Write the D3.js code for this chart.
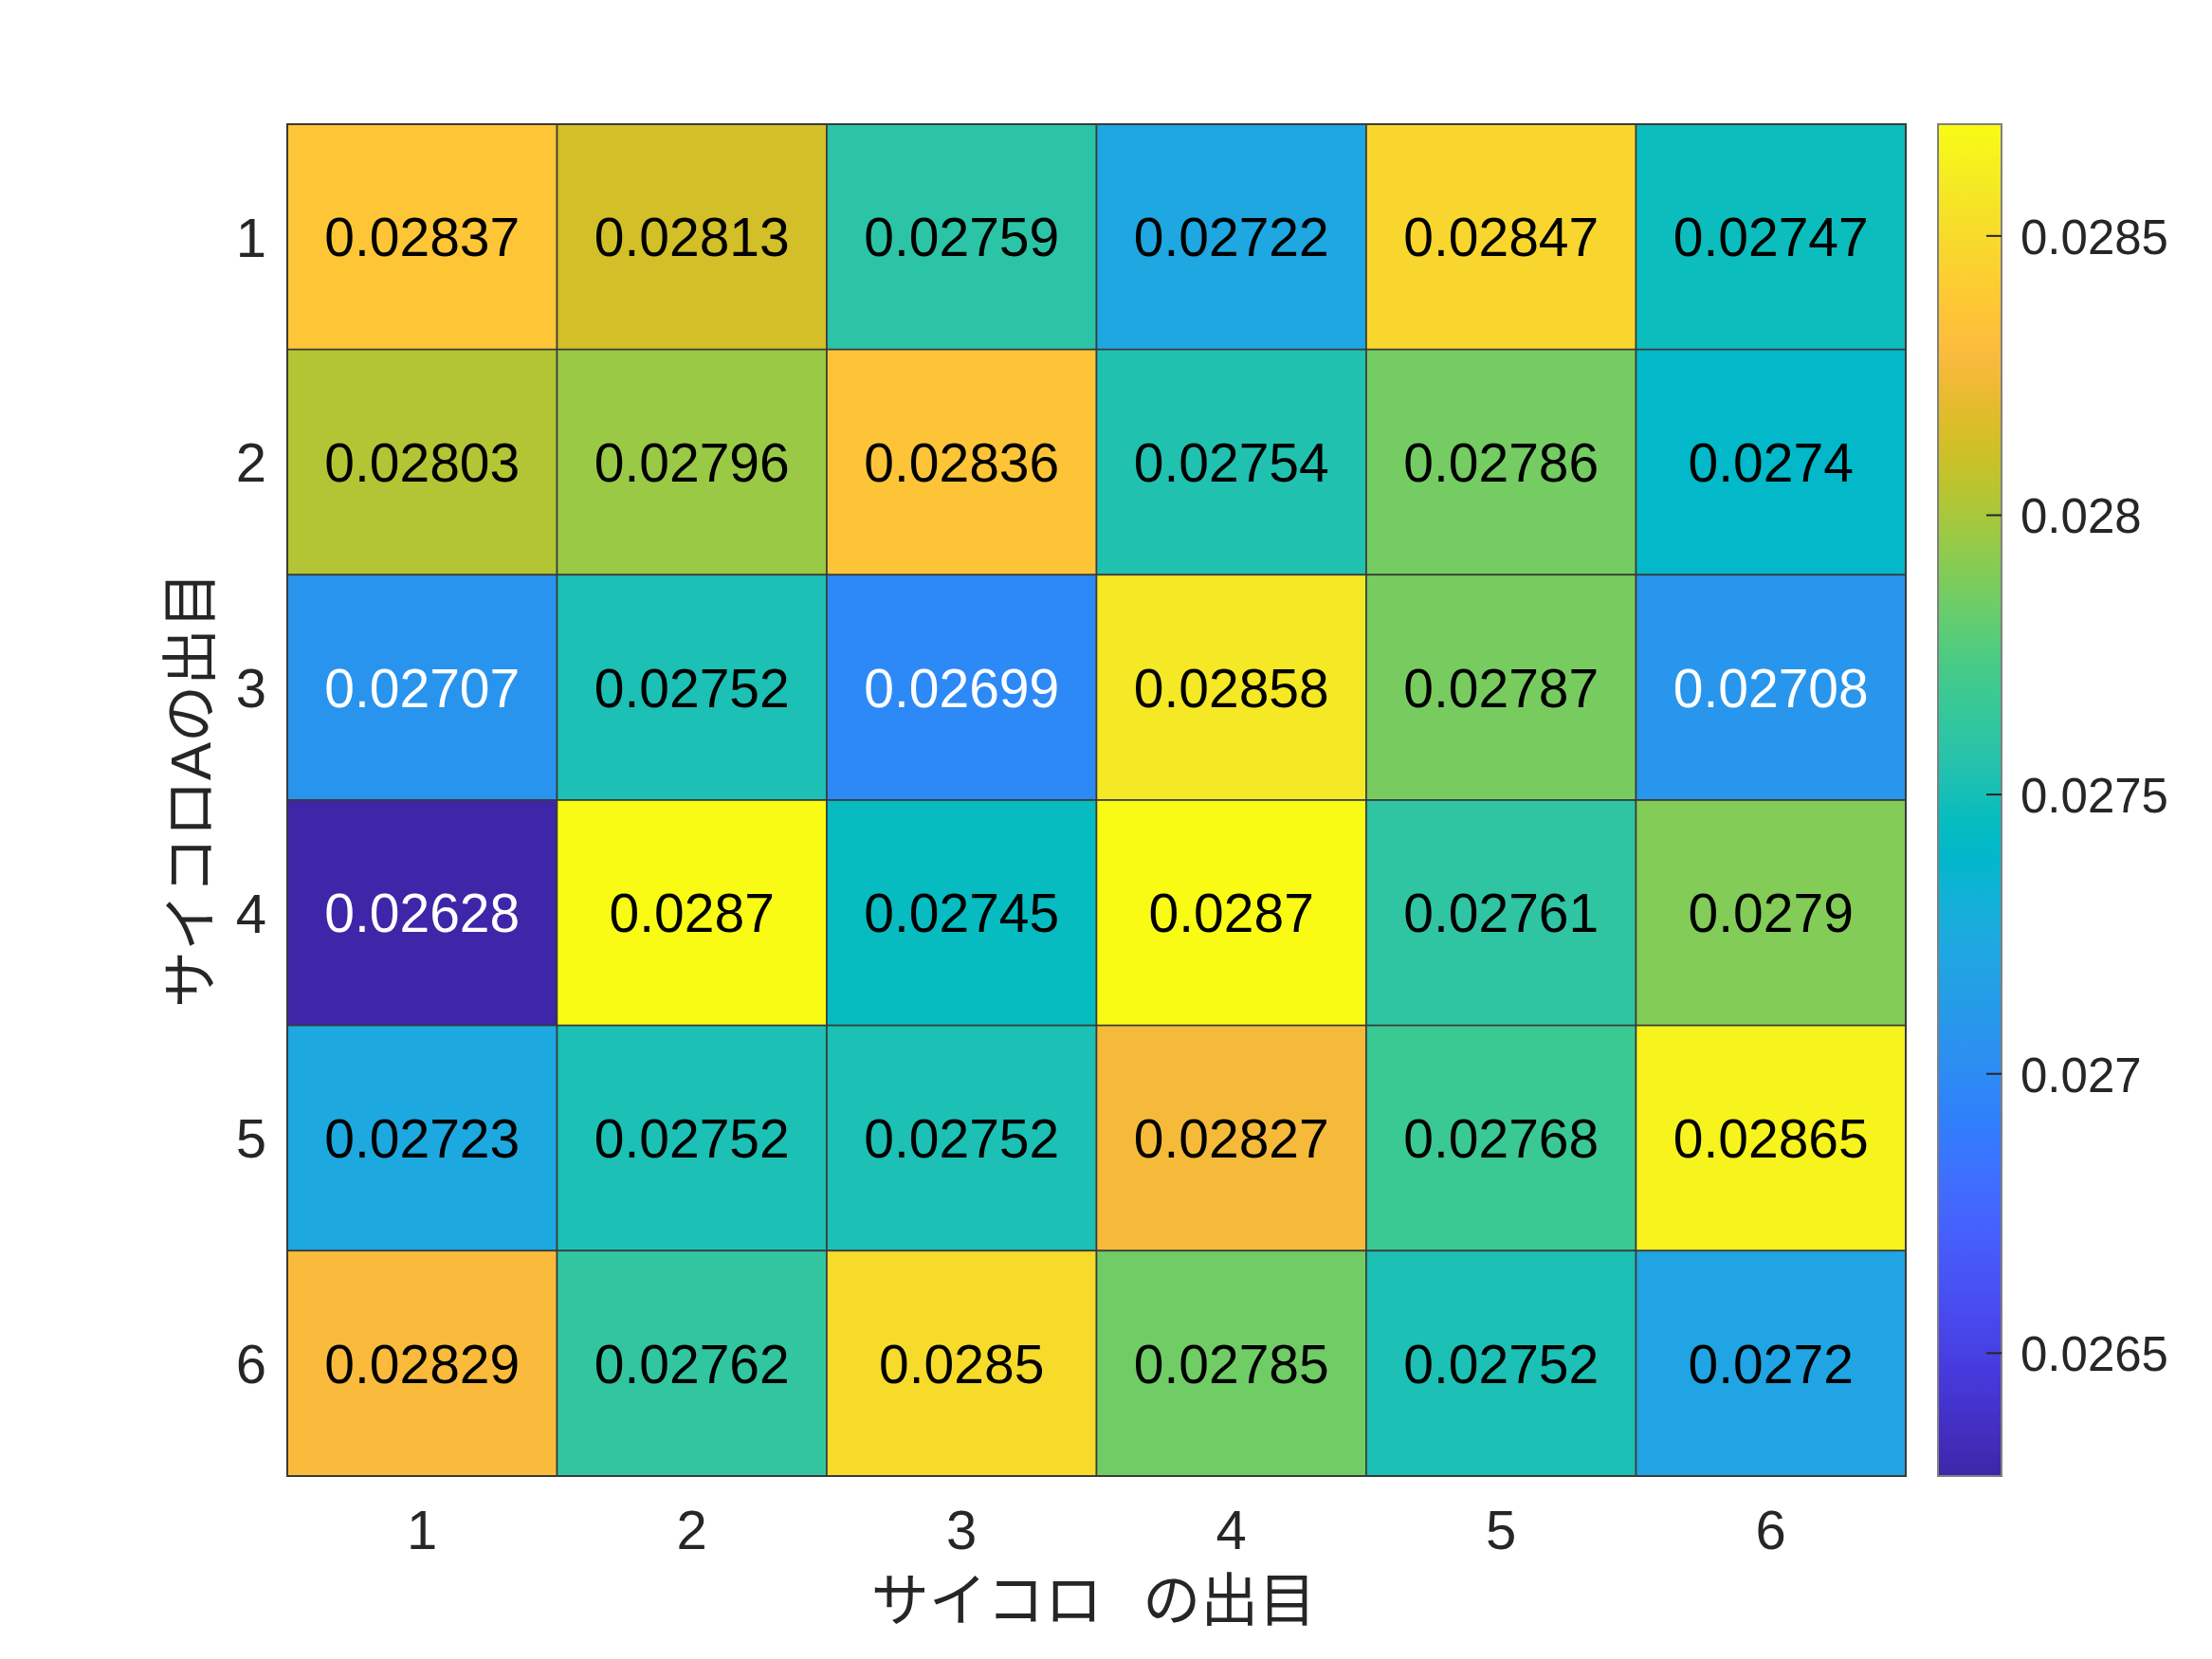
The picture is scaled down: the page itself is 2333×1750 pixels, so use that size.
<!DOCTYPE html>
<html>
<head>
<meta charset="utf-8">
<script src="https://cdn.jsdelivr.net/npm/d3@7"></script>
<style>
  html, body { margin: 0; padding: 0; background: #fff; }
  svg { display: block; }
</style>
</head>
<body>
<svg id="chart" width="2333" height="1750"></svg>
<script>
// ---- data ----
const rowLabels = ["1", "2", "3", "4", "5", "6"];   // サイコロA
const colLabels = ["1", "2", "3", "4", "5", "6"];   // サイコロ
const row1 = [0.02837, 0.02813, 0.02759, 0.02722, 0.02847, 0.02747];
const row2 = [0.02803, 0.02796, 0.02836, 0.02754, 0.02786, 0.0274];
const row3 = [0.02707, 0.02752, 0.02699, 0.02858, 0.02787, 0.02708];
const row4 = [0.02628, 0.0287, 0.02745, 0.0287, 0.02761, 0.0279];
const row5 = [0.02723, 0.02752, 0.02752, 0.02827, 0.02768, 0.02865];
const row6 = [0.02829, 0.02762, 0.0285, 0.02785, 0.02752, 0.0272];
const rows = [row1, row2, row3, row4, row5, row6];
const colorbarTicks = [0.0265, 0.027, 0.0275, 0.028, 0.0285];
const xLabel = "サイコロ\u2002\u2009の出目";
const yLabel = "サイコロAの出目";

// parula colormap (64 entries)
const parula = [
[0.2422,0.1504,0.6603],[0.2504,0.1650,0.7076],[0.2578,0.1818,0.7511],[0.2647,0.1978,0.7952],
[0.2706,0.2147,0.8364],[0.2751,0.2342,0.8710],[0.2783,0.2559,0.8991],[0.2803,0.2782,0.9221],
[0.2813,0.3006,0.9414],[0.2810,0.3228,0.9579],[0.2795,0.3447,0.9717],[0.2760,0.3667,0.9829],
[0.2699,0.3892,0.9906],[0.2602,0.4123,0.9952],[0.2440,0.4358,0.9988],[0.2206,0.4603,0.9973],
[0.1963,0.4847,0.9892],[0.1834,0.5074,0.9798],[0.1786,0.5289,0.9682],[0.1764,0.5499,0.9520],
[0.1687,0.5703,0.9359],[0.1540,0.5902,0.9218],[0.1460,0.6091,0.9079],[0.1380,0.6276,0.8973],
[0.1248,0.6459,0.8883],[0.1113,0.6635,0.8763],[0.0952,0.6798,0.8598],[0.0689,0.6948,0.8394],
[0.0297,0.7082,0.8163],[0.0036,0.7203,0.7917],[0.0067,0.7312,0.7660],[0.0433,0.7411,0.7394],
[0.0964,0.7500,0.7120],[0.1408,0.7584,0.6842],[0.1717,0.7670,0.6554],[0.1938,0.7758,0.6251],
[0.2161,0.7843,0.5923],[0.2470,0.7918,0.5567],[0.2906,0.7973,0.5188],[0.3406,0.8008,0.4789],
[0.3909,0.8029,0.4354],[0.4456,0.8024,0.3909],[0.5044,0.7993,0.3480],[0.5616,0.7942,0.3045],
[0.6174,0.7876,0.2612],[0.6720,0.7793,0.2227],[0.7242,0.7698,0.1910],[0.7738,0.7598,0.1646],
[0.8203,0.7498,0.1535],[0.8634,0.7406,0.1596],[0.9035,0.7330,0.1774],[0.9393,0.7288,0.2100],
[0.9728,0.7298,0.2394],[0.9956,0.7434,0.2371],[0.9970,0.7659,0.2199],[0.9952,0.7893,0.2028],
[0.9892,0.8136,0.1885],[0.9786,0.8386,0.1766],[0.9676,0.8639,0.1643],[0.9610,0.8890,0.1537],
[0.9597,0.9135,0.1423],[0.9628,0.9373,0.1265],[0.9691,0.9606,0.1064],[0.9769,0.9839,0.0805]
];
const parulaRGB = parula.map(c => d3.rgb(c[0]*255, c[1]*255, c[2]*255));
const parulaInterp = d3.interpolateRgbBasis(parulaRGB);

// ---- layout ----
const svg = d3.select("#chart");
const plot = { left: 303, top: 131, width: 1707, height: 1426 };
const cbar = { left: 2044, width: 67 };

const allVals = rows.flat();
const vmin = d3.min(allVals), vmax = d3.max(allVals);
const color = d3.scaleSequential(parulaInterp).domain([vmin, vmax]);

const x = d3.scaleBand().domain(colLabels).range([plot.left, plot.left + plot.width]);
const y = d3.scaleBand().domain(rowLabels).range([plot.top, plot.top + plot.height]);

const cells = [];
rows.forEach((r, i) => r.forEach((v, j) => cells.push({ row: rowLabels[i], col: colLabels[j], v })));

const latin = "'Liberation Sans', Arial, Helvetica, sans-serif";
const cjk = "'Liberation Sans', 'Noto Sans CJK JP', sans-serif";

const g = svg.append("g");
g.selectAll("rect.cell").data(cells).enter().append("rect")
  .attr("class", "cell")
  .attr("x", d => x(d.col)).attr("y", d => y(d.row))
  .attr("width", x.bandwidth()).attr("height", y.bandwidth())
  .attr("fill", d => color(d.v))
  .attr("stroke", "#3a3a3a").attr("stroke-width", 1.6);

function lum(c) { const r = d3.rgb(c); return (0.299*r.r + 0.587*r.g + 0.114*r.b) / 255; }

const fmt = v => String(+v.toPrecision(4));
g.selectAll("text.val").data(cells).enter().append("text")
  .attr("class", "val")
  .attr("x", d => x(d.col) + x.bandwidth()/2)
  .attr("y", d => y(d.row) + y.bandwidth()/2)
  .attr("dy", "0.36em")
  .attr("text-anchor", "middle")
  .attr("font-family", latin).attr("font-size", 57)
  .attr("fill", d => lum(color(d.v)) < 0.51 ? "#ffffff" : "#000000")
  .text(d => fmt(d.v));

// outer frame
g.append("rect")
  .attr("x", plot.left).attr("y", plot.top).attr("width", plot.width).attr("height", plot.height)
  .attr("fill", "none").attr("stroke", "#3a3a3a").attr("stroke-width", 2);

// x tick labels
g.selectAll("text.xt").data(colLabels).enter().append("text")
  .attr("x", d => x(d) + x.bandwidth()/2).attr("y", 1634)
  .attr("text-anchor", "middle").attr("font-family", latin).attr("font-size", 58)
  .attr("fill", "#262626").text(d => d);

// y tick labels
g.selectAll("text.yt").data(rowLabels).enter().append("text")
  .attr("x", 281).attr("y", d => y(d) + y.bandwidth()/2).attr("dy", "0.36em")
  .attr("text-anchor", "end").attr("font-family", latin).attr("font-size", 58)
  .attr("fill", "#262626").text(d => d);

// axis labels
g.append("text").attr("x", plot.left + plot.width/2 - 3).attr("y", 1710)
  .attr("text-anchor", "middle").attr("font-family", cjk).attr("font-size", 61)
  .attr("fill", "#262626").text(xLabel);
g.append("text").attr("transform", `translate(222, 833) rotate(-90)`)
  .attr("text-anchor", "middle").attr("font-family", cjk).attr("font-size", 60)
  .attr("fill", "#262626").text(yLabel);

// colorbar
const cy = d3.scaleLinear().domain([vmin, vmax]).range([plot.top + plot.height, plot.top]);
const defs = svg.append("defs");
const grad = defs.append("linearGradient").attr("id", "cbgrad")
  .attr("x1", 0).attr("y1", 1).attr("x2", 0).attr("y2", 0);
d3.range(0, 65).forEach(i => {
  const t = i / 64;
  grad.append("stop").attr("offset", t).attr("stop-color", parulaInterp(t));
});
g.append("rect").attr("x", cbar.left).attr("y", plot.top)
  .attr("width", cbar.width).attr("height", plot.height)
  .attr("fill", "url(#cbgrad)").attr("stroke", "#808080").attr("stroke-width", 2);

const cAxis = d3.axisRight(cy).tickValues(colorbarTicks).tickSize(0).tickFormat(d => String(d));
const cg = g.append("g").attr("transform", `translate(${cbar.left + cbar.width},0)`);
cg.selectAll("line.ct").data(colorbarTicks).enter().append("line")
  .attr("x1", -16).attr("x2", 0).attr("y1", d => cy(d)).attr("y2", d => cy(d))
  .attr("stroke", "#262626").attr("stroke-width", 2);
const axg = g.append("g").attr("transform", `translate(${cbar.left + cbar.width},0)`).call(cAxis);
axg.select(".domain").remove();
axg.selectAll("text").attr("x", 20).attr("dy", "0.36em")
  .attr("font-family", latin).attr("font-size", 51).attr("fill", "#262626");
</script>
</body>
</html>
